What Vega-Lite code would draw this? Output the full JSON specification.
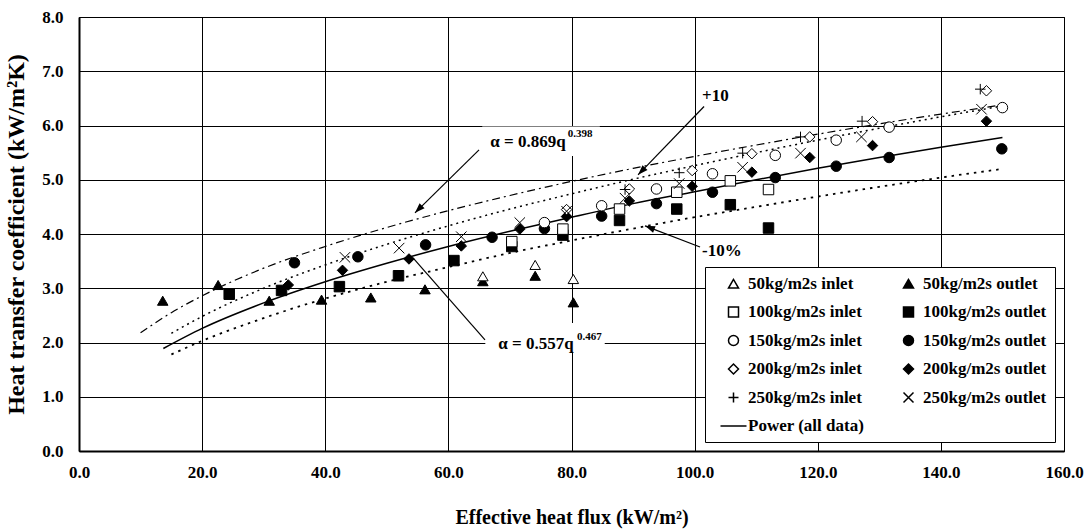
{
  "$schema": "https://vega.github.io/schema/vega-lite/v6.json",
  "width": 985,
  "height": 434,
  "autosize": {"type": "none"},
  "padding": {"left": 79, "top": 17, "right": 28, "bottom": 81},
  "background": "white",
  "datasets": {
    "points": [
      {"q": 13.6, "h": 2.77, "series": "50kg/m2s outlet"},
      {"q": 22.6, "h": 3.06, "series": "50kg/m2s outlet"},
      {"q": 30.9, "h": 2.77, "series": "50kg/m2s outlet"},
      {"q": 39.4, "h": 2.79, "series": "50kg/m2s outlet"},
      {"q": 47.4, "h": 2.83, "series": "50kg/m2s outlet"},
      {"q": 56.2, "h": 2.98, "series": "50kg/m2s outlet"},
      {"q": 65.6, "h": 3.13, "series": "50kg/m2s outlet"},
      {"q": 74.1, "h": 3.23, "series": "50kg/m2s outlet"},
      {"q": 80.3, "h": 2.74, "series": "50kg/m2s outlet"},
      {"q": 65.6, "h": 3.22, "series": "50kg/m2s inlet"},
      {"q": 74.1, "h": 3.43, "series": "50kg/m2s inlet"},
      {"q": 80.3, "h": 3.17, "series": "50kg/m2s inlet"},
      {"q": 24.4, "h": 2.89, "series": "100kg/m2s outlet"},
      {"q": 32.9, "h": 2.96, "series": "100kg/m2s outlet"},
      {"q": 42.3, "h": 3.03, "series": "100kg/m2s outlet"},
      {"q": 51.9, "h": 3.23, "series": "100kg/m2s outlet"},
      {"q": 60.9, "h": 3.51, "series": "100kg/m2s outlet"},
      {"q": 70.3, "h": 3.77, "series": "100kg/m2s outlet"},
      {"q": 78.6, "h": 3.98, "series": "100kg/m2s outlet"},
      {"q": 87.8, "h": 4.25, "series": "100kg/m2s outlet"},
      {"q": 97.1, "h": 4.46, "series": "100kg/m2s outlet"},
      {"q": 105.8, "h": 4.54, "series": "100kg/m2s outlet"},
      {"q": 112.0, "h": 4.11, "series": "100kg/m2s outlet"},
      {"q": 70.3, "h": 3.86, "series": "100kg/m2s inlet"},
      {"q": 78.6, "h": 4.09, "series": "100kg/m2s inlet"},
      {"q": 87.8, "h": 4.46, "series": "100kg/m2s inlet"},
      {"q": 97.1, "h": 4.77, "series": "100kg/m2s inlet"},
      {"q": 105.8, "h": 4.98, "series": "100kg/m2s inlet"},
      {"q": 112.0, "h": 4.82, "series": "100kg/m2s inlet"},
      {"q": 35.0, "h": 3.47, "series": "150kg/m2s outlet"},
      {"q": 45.3, "h": 3.58, "series": "150kg/m2s outlet"},
      {"q": 56.3, "h": 3.80, "series": "150kg/m2s outlet"},
      {"q": 67.1, "h": 3.94, "series": "150kg/m2s outlet"},
      {"q": 75.6, "h": 4.10, "series": "150kg/m2s outlet"},
      {"q": 84.9, "h": 4.33, "series": "150kg/m2s outlet"},
      {"q": 93.8, "h": 4.56, "series": "150kg/m2s outlet"},
      {"q": 102.9, "h": 4.77, "series": "150kg/m2s outlet"},
      {"q": 113.1, "h": 5.04, "series": "150kg/m2s outlet"},
      {"q": 123.0, "h": 5.25, "series": "150kg/m2s outlet"},
      {"q": 131.6, "h": 5.41, "series": "150kg/m2s outlet"},
      {"q": 149.9, "h": 5.57, "series": "150kg/m2s outlet"},
      {"q": 75.6, "h": 4.21, "series": "150kg/m2s inlet"},
      {"q": 84.9, "h": 4.52, "series": "150kg/m2s inlet"},
      {"q": 93.8, "h": 4.83, "series": "150kg/m2s inlet"},
      {"q": 102.9, "h": 5.11, "series": "150kg/m2s inlet"},
      {"q": 113.1, "h": 5.45, "series": "150kg/m2s inlet"},
      {"q": 123.0, "h": 5.73, "series": "150kg/m2s inlet"},
      {"q": 131.6, "h": 5.97, "series": "150kg/m2s inlet"},
      {"q": 150.0, "h": 6.33, "series": "150kg/m2s inlet"},
      {"q": 34.0, "h": 3.06, "series": "200kg/m2s outlet"},
      {"q": 42.8, "h": 3.33, "series": "200kg/m2s outlet"},
      {"q": 53.6, "h": 3.54, "series": "200kg/m2s outlet"},
      {"q": 62.1, "h": 3.78, "series": "200kg/m2s outlet"},
      {"q": 71.6, "h": 4.09, "series": "200kg/m2s outlet"},
      {"q": 79.2, "h": 4.32, "series": "200kg/m2s outlet"},
      {"q": 89.4, "h": 4.61, "series": "200kg/m2s outlet"},
      {"q": 99.6, "h": 4.88, "series": "200kg/m2s outlet"},
      {"q": 109.3, "h": 5.14, "series": "200kg/m2s outlet"},
      {"q": 118.7, "h": 5.41, "series": "200kg/m2s outlet"},
      {"q": 128.9, "h": 5.63, "series": "200kg/m2s outlet"},
      {"q": 147.4, "h": 6.08, "series": "200kg/m2s outlet"},
      {"q": 79.2, "h": 4.45, "series": "200kg/m2s inlet"},
      {"q": 89.4, "h": 4.83, "series": "200kg/m2s inlet"},
      {"q": 99.6, "h": 5.17, "series": "200kg/m2s inlet"},
      {"q": 109.3, "h": 5.48, "series": "200kg/m2s inlet"},
      {"q": 118.7, "h": 5.79, "series": "200kg/m2s inlet"},
      {"q": 128.9, "h": 6.07, "series": "200kg/m2s inlet"},
      {"q": 147.4, "h": 6.64, "series": "200kg/m2s inlet"},
      {"q": 88.7, "h": 4.82, "series": "250kg/m2s inlet"},
      {"q": 97.5, "h": 5.13, "series": "250kg/m2s inlet"},
      {"q": 107.8, "h": 5.49, "series": "250kg/m2s inlet"},
      {"q": 117.2, "h": 5.79, "series": "250kg/m2s inlet"},
      {"q": 127.2, "h": 6.08, "series": "250kg/m2s inlet"},
      {"q": 146.4, "h": 6.67, "series": "250kg/m2s inlet"},
      {"q": 43.2, "h": 3.57, "series": "250kg/m2s outlet"},
      {"q": 52.0, "h": 3.74, "series": "250kg/m2s outlet"},
      {"q": 62.1, "h": 3.95, "series": "250kg/m2s outlet"},
      {"q": 71.6, "h": 4.21, "series": "250kg/m2s outlet"},
      {"q": 79.2, "h": 4.42, "series": "250kg/m2s outlet"},
      {"q": 88.7, "h": 4.66, "series": "250kg/m2s outlet"},
      {"q": 97.5, "h": 4.93, "series": "250kg/m2s outlet"},
      {"q": 107.8, "h": 5.23, "series": "250kg/m2s outlet"},
      {"q": 117.2, "h": 5.49, "series": "250kg/m2s outlet"},
      {"q": 127.1, "h": 5.79, "series": "250kg/m2s outlet"},
      {"q": 146.6, "h": 6.30, "series": "250kg/m2s outlet"}
    ],
    "curves": [
      {"curve": "fit", "q": 13.7, "h": 1.89},
      {"curve": "fit", "q": 20, "h": 2.26},
      {"curve": "fit", "q": 30, "h": 2.73},
      {"curve": "fit", "q": 40, "h": 3.12},
      {"curve": "fit", "q": 50, "h": 3.46},
      {"curve": "fit", "q": 60, "h": 3.77},
      {"curve": "fit", "q": 70, "h": 4.05},
      {"curve": "fit", "q": 80, "h": 4.31},
      {"curve": "fit", "q": 90, "h": 4.56},
      {"curve": "fit", "q": 100, "h": 4.78},
      {"curve": "fit", "q": 110, "h": 5.00},
      {"curve": "fit", "q": 120, "h": 5.21},
      {"curve": "fit", "q": 130, "h": 5.41},
      {"curve": "fit", "q": 140, "h": 5.60},
      {"curve": "fit", "q": 150, "h": 5.78},
      {"curve": "plus10", "q": 15, "h": 2.17},
      {"curve": "plus10", "q": 20, "h": 2.48},
      {"curve": "plus10", "q": 30, "h": 3.00},
      {"curve": "plus10", "q": 40, "h": 3.43},
      {"curve": "plus10", "q": 50, "h": 3.81},
      {"curve": "plus10", "q": 60, "h": 4.15},
      {"curve": "plus10", "q": 70, "h": 4.46},
      {"curve": "plus10", "q": 80, "h": 4.74},
      {"curve": "plus10", "q": 90, "h": 5.01},
      {"curve": "plus10", "q": 100, "h": 5.26},
      {"curve": "plus10", "q": 110, "h": 5.50},
      {"curve": "plus10", "q": 120, "h": 5.73},
      {"curve": "plus10", "q": 130, "h": 5.95},
      {"curve": "plus10", "q": 140, "h": 6.16},
      {"curve": "plus10", "q": 150, "h": 6.36},
      {"curve": "minus10", "q": 15, "h": 1.78},
      {"curve": "minus10", "q": 20, "h": 2.03},
      {"curve": "minus10", "q": 30, "h": 2.45},
      {"curve": "minus10", "q": 40, "h": 2.81},
      {"curve": "minus10", "q": 50, "h": 3.12},
      {"curve": "minus10", "q": 60, "h": 3.39},
      {"curve": "minus10", "q": 70, "h": 3.65},
      {"curve": "minus10", "q": 80, "h": 3.88},
      {"curve": "minus10", "q": 90, "h": 4.10},
      {"curve": "minus10", "q": 100, "h": 4.31},
      {"curve": "minus10", "q": 110, "h": 4.50},
      {"curve": "minus10", "q": 120, "h": 4.69},
      {"curve": "minus10", "q": 130, "h": 4.87},
      {"curve": "minus10", "q": 140, "h": 5.04},
      {"curve": "minus10", "q": 150, "h": 5.20},
      {"curve": "alpha869", "q": 10, "h": 2.18},
      {"curve": "alpha869", "q": 15, "h": 2.55},
      {"curve": "alpha869", "q": 20, "h": 2.86},
      {"curve": "alpha869", "q": 30, "h": 3.37},
      {"curve": "alpha869", "q": 40, "h": 3.77},
      {"curve": "alpha869", "q": 50, "h": 4.12},
      {"curve": "alpha869", "q": 60, "h": 4.43},
      {"curve": "alpha869", "q": 70, "h": 4.71},
      {"curve": "alpha869", "q": 80, "h": 4.97},
      {"curve": "alpha869", "q": 90, "h": 5.21},
      {"curve": "alpha869", "q": 100, "h": 5.43},
      {"curve": "alpha869", "q": 110, "h": 5.64},
      {"curve": "alpha869", "q": 120, "h": 5.84},
      {"curve": "alpha869", "q": 130, "h": 6.03},
      {"curve": "alpha869", "q": 140, "h": 6.21},
      {"curve": "alpha869", "q": 150, "h": 6.38}
    ],
    "boxes": [
      {"q": 65.5, "q2": 84.6, "h": 5.44, "h2": 5.98},
      {"q": 66.0, "q2": 85.4, "h": 1.83, "h2": 2.36}
    ],
    "arrows": [
      {"name": "a869", "q": 64.98, "h": 5.55, "q2": 54.58, "h2": 4.39},
      {"name": "p10", "q": 101.53, "h": 6.35, "q2": 90.81, "h2": 5.09},
      {"name": "m10", "q": 100.88, "h": 3.76, "q2": 91.94, "h2": 4.15},
      {"name": "a557", "q": 65.95, "h": 2.05, "q2": 54.26, "h2": 3.56}
    ],
    "labels": [
      {"text": "α = 0.869q", "q": 66.8, "h": 5.60, "role": "main"},
      {"text": "0.398", "q": 79.4, "h": 5.79, "role": "sup"},
      {"text": "α = 0.557q", "q": 68.1, "h": 1.88, "role": "main"},
      {"text": "0.467", "q": 80.9, "h": 2.05, "role": "sup"},
      {"text": "+10", "q": 101.2, "h": 6.46, "role": "main"},
      {"text": "-10%", "q": 101.2, "h": 3.60, "role": "main"}
    ]
  },
  "layer": [
    {
      "data": {"name": "boxes"},
      "mark": {"type": "rect", "fill": "white", "strokeWidth": 0},
      "encoding": {
        "x": {"field": "q", "type": "quantitative", "scale": {"domain": [0, 160], "nice": false, "zero": false}, "title": "Effective heat flux (kW/m²)",
          "axis": {"values": [0, 20, 40, 60, 80, 100, 120, 140, 160], "format": ".1f", "labelFlush": false, "labelOverlap": false}},
        "x2": {"field": "q2"},
        "y": {"field": "h", "type": "quantitative", "scale": {"domain": [0, 8], "nice": false, "zero": false}, "title": "Heat transfer coefficient (kW/m²K)",
          "axis": {"values": [0, 1, 2, 3, 4, 5, 6, 7, 8], "format": ".1f", "labelFlush": false, "labelOverlap": false}},
        "y2": {"field": "h2"}
      }
    },
    {
      "data": {"name": "curves"},
      "transform": [{"filter": "datum.curve == 'alpha869'"}],
      "mark": {"type": "line", "color": "black", "strokeWidth": 1.2, "strokeDash": [8, 4, 2, 4], "interpolate": "monotone"},
      "encoding": {
        "x": {"field": "q", "type": "quantitative", "title": "Effective heat flux (kW/m²)"},
        "y": {"field": "h", "type": "quantitative", "title": "Heat transfer coefficient (kW/m²K)"}
      }
    },
    {
      "data": {"name": "curves"},
      "transform": [{"filter": "datum.curve == 'plus10'"}],
      "mark": {"type": "line", "color": "black", "strokeWidth": 1.5, "strokeDash": [2, 4], "interpolate": "monotone"},
      "encoding": {
        "x": {"field": "q", "type": "quantitative", "title": "Effective heat flux (kW/m²)"},
        "y": {"field": "h", "type": "quantitative", "title": "Heat transfer coefficient (kW/m²K)"}
      }
    },
    {
      "data": {"name": "curves"},
      "transform": [{"filter": "datum.curve == 'minus10'"}],
      "mark": {"type": "line", "color": "black", "strokeWidth": 1.8, "strokeDash": [2.5, 5], "interpolate": "monotone"},
      "encoding": {
        "x": {"field": "q", "type": "quantitative", "title": "Effective heat flux (kW/m²)"},
        "y": {"field": "h", "type": "quantitative", "title": "Heat transfer coefficient (kW/m²K)"}
      }
    },
    {
      "data": {"name": "curves"},
      "transform": [{"filter": "datum.curve == 'fit'"}],
      "mark": {"type": "line", "color": "black", "strokeWidth": 1.5, "interpolate": "monotone"},
      "encoding": {
        "x": {"field": "q", "type": "quantitative", "title": "Effective heat flux (kW/m²)"},
        "y": {"field": "h", "type": "quantitative", "title": "Heat transfer coefficient (kW/m²K)"}
      }
    },
    {
      "data": {"name": "points"},
      "mark": {"type": "point", "opacity": 1, "stroke": "black", "strokeWidth": 1, "size": 110},
      "encoding": {
        "x": {"field": "q", "type": "quantitative", "title": "Effective heat flux (kW/m²)"},
        "y": {"field": "h", "type": "quantitative", "title": "Heat transfer coefficient (kW/m²K)"},
        "shape": {
          "field": "series", "type": "nominal",
          "scale": {
            "domain": ["50kg/m2s inlet", "100kg/m2s inlet", "150kg/m2s inlet", "200kg/m2s inlet", "250kg/m2s inlet", "Power (all data)", "50kg/m2s outlet", "100kg/m2s outlet", "150kg/m2s outlet", "200kg/m2s outlet", "250kg/m2s outlet"],
            "range": ["triangle-up", "square", "circle", "diamond", "M-1,0L1,0M0,-1L0,1", "M-2.6,0L2.6,0", "triangle-up", "square", "circle", "diamond", "M-1,-1L1,1M-1,1L1,-1"]
          },
          "legend": {"orient": "none", "legendX": 626, "legendY": 250, "columns": 2, "title": null, "fillColor": "white", "strokeColor": "black", "padding": 8, "symbolOffset": 12, "labelOffset": 6, "labelFont": "Liberation Serif", "labelFontWeight": "bold", "labelFontSize": 17, "labelColor": "black", "labelLimit": 400, "symbolSize": 100, "rowPadding": 10.5, "columnPadding": 23,
            "encode": {"symbols": {"update": {"stroke": {"value": "black"}, "strokeWidth": {"value": 1}, "opacity": {"value": 1}}}}}
        },
        "fill": {
          "field": "series", "type": "nominal",
          "scale": {
            "domain": ["50kg/m2s inlet", "100kg/m2s inlet", "150kg/m2s inlet", "200kg/m2s inlet", "250kg/m2s inlet", "Power (all data)", "50kg/m2s outlet", "100kg/m2s outlet", "150kg/m2s outlet", "200kg/m2s outlet", "250kg/m2s outlet"],
            "range": ["white", "white", "white", "white", "transparent", "transparent", "black", "black", "black", "black", "transparent"]
          },
          "legend": {"orient": "none", "legendX": 626, "legendY": 250, "columns": 2, "title": null, "fillColor": "white", "strokeColor": "black", "padding": 8, "symbolOffset": 12, "labelOffset": 6, "labelFont": "Liberation Serif", "labelFontWeight": "bold", "labelFontSize": 17, "labelColor": "black", "labelLimit": 400, "symbolSize": 100, "rowPadding": 10.5, "columnPadding": 23,
            "encode": {"symbols": {"update": {"stroke": {"value": "black"}, "strokeWidth": {"value": 1}, "opacity": {"value": 1}}}}}
        }
      }
    },
    {
      "data": {"name": "arrows"},
      "mark": {"type": "rule", "color": "black", "strokeWidth": 1.2},
      "encoding": {
        "x": {"field": "q", "type": "quantitative", "title": "Effective heat flux (kW/m²)"},
        "y": {"field": "h", "type": "quantitative", "title": "Heat transfer coefficient (kW/m²K)"},
        "x2": {"field": "q2"},
        "y2": {"field": "h2"}
      }
    },
    {
      "data": {"name": "arrows"},
      "transform": [{"filter": "datum.name == 'a869'"}],
      "mark": {"type": "point", "shape": "M0,0L-0.7,2L0.7,2Z", "angle": 225, "filled": true, "color": "black", "opacity": 1, "size": 100},
      "encoding": {
        "x": {"field": "q2", "type": "quantitative", "title": "Effective heat flux (kW/m²)"},
        "y": {"field": "h2", "type": "quantitative", "title": "Heat transfer coefficient (kW/m²K)"}
      }
    },
    {
      "data": {"name": "arrows"},
      "transform": [{"filter": "datum.name == 'p10'"}],
      "mark": {"type": "point", "shape": "M0,0L-0.7,2L0.7,2Z", "angle": 224, "filled": true, "color": "black", "opacity": 1, "size": 100},
      "encoding": {
        "x": {"field": "q2", "type": "quantitative", "title": "Effective heat flux (kW/m²)"},
        "y": {"field": "h2", "type": "quantitative", "title": "Heat transfer coefficient (kW/m²K)"}
      }
    },
    {
      "data": {"name": "arrows"},
      "transform": [{"filter": "datum.name == 'm10'"}],
      "mark": {"type": "point", "shape": "M0,0L-0.7,2L0.7,2Z", "angle": 291, "filled": true, "color": "black", "opacity": 1, "size": 100},
      "encoding": {
        "x": {"field": "q2", "type": "quantitative", "title": "Effective heat flux (kW/m²)"},
        "y": {"field": "h2", "type": "quantitative", "title": "Heat transfer coefficient (kW/m²K)"}
      }
    },
    {
      "data": {"name": "labels"},
      "transform": [{"filter": "datum.role == 'main'"}],
      "mark": {"type": "text", "font": "Liberation Serif", "fontWeight": "bold", "fontSize": 17, "color": "black", "align": "left", "baseline": "alphabetic"},
      "encoding": {
        "x": {"field": "q", "type": "quantitative", "title": "Effective heat flux (kW/m²)"},
        "y": {"field": "h", "type": "quantitative", "title": "Heat transfer coefficient (kW/m²K)"},
        "text": {"field": "text"}
      }
    },
    {
      "data": {"name": "labels"},
      "transform": [{"filter": "datum.role == 'sup'"}],
      "mark": {"type": "text", "font": "Liberation Serif", "fontWeight": "bold", "fontSize": 11, "color": "black", "align": "left", "baseline": "alphabetic"},
      "encoding": {
        "x": {"field": "q", "type": "quantitative", "title": "Effective heat flux (kW/m²)"},
        "y": {"field": "h", "type": "quantitative", "title": "Heat transfer coefficient (kW/m²K)"},
        "text": {"field": "text"}
      }
    }
  ],
  "config": {
    "view": {"stroke": "black", "strokeWidth": 1},
    "axis": {"grid": true, "gridColor": "black", "gridOpacity": 1, "gridWidth": 1, "domainColor": "black", "domainWidth": 2, "ticks": false,
      "labelFont": "Liberation Serif", "labelFontWeight": "bold", "labelFontSize": 17, "labelColor": "black",
      "titleFont": "Liberation Serif", "titleFontWeight": "bold", "titleColor": "black"},
    "axisX": {"labelPadding": 13, "titlePadding": 27, "titleFontSize": 20},
    "axisY": {"labelPadding": 16, "titlePadding": 13, "titleFontSize": 24}
  }
}
